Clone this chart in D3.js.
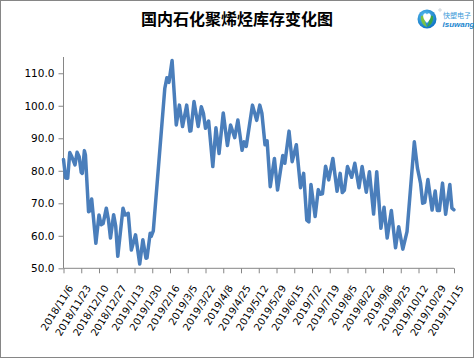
<!DOCTYPE html>
<html>
<head>
<meta charset="utf-8">
<script src="https://cdn.jsdelivr.net/npm/d3@7"></script>
<style>
  html, body { margin: 0; padding: 0; background: #fff; }
  svg { display: block; }
</style>
</head>
<body>
<svg id="chart" width="474" height="359"></svg>
<script>
const title = "国内石化聚烯烃库存变化图";
const dates = [
  "2018-11-06","2018-11-08","2018-11-10","2018-11-12","2018-11-14","2018-11-17","2018-11-19","2018-11-21","2018-11-23","2018-11-24",
  "2018-11-26","2018-11-27","2018-11-30","2018-12-01","2018-12-03","2018-12-07","2018-12-10","2018-12-12","2018-12-14","2018-12-17",
  "2018-12-19","2018-12-21","2018-12-24","2018-12-26","2018-12-28","2019-01-02","2019-01-04","2019-01-07","2019-01-10","2019-01-14",
  "2019-01-18","2019-01-21","2019-01-24","2019-01-25","2019-01-28","2019-01-29","2019-01-31","2019-02-11","2019-02-13","2019-02-15",
  "2019-02-18","2019-02-22","2019-02-25","2019-02-28","2019-03-04","2019-03-07","2019-03-08","2019-03-11","2019-03-15","2019-03-18",
  "2019-03-20","2019-03-22","2019-03-25","2019-03-29","2019-04-01","2019-04-04","2019-04-08","2019-04-12","2019-04-15","2019-04-19",
  "2019-04-22","2019-04-26","2019-04-28","2019-04-30","2019-05-06","2019-05-10","2019-05-13","2019-05-15","2019-05-18","2019-05-20",
  "2019-05-23","2019-05-27","2019-05-30","2019-06-04","2019-06-06","2019-06-10","2019-06-13","2019-06-17","2019-06-21","2019-06-24",
  "2019-06-27","2019-06-29","2019-07-01","2019-07-05","2019-07-08","2019-07-10","2019-07-12","2019-07-15","2019-07-18","2019-07-22",
  "2019-07-26","2019-07-29","2019-07-31","2019-08-02","2019-08-05","2019-08-09","2019-08-12","2019-08-16","2019-08-19","2019-08-23",
  "2019-08-26","2019-08-30","2019-09-02","2019-09-06","2019-09-09","2019-09-12","2019-09-16","2019-09-20","2019-09-23","2019-09-27",
  "2019-10-01","2019-10-08","2019-10-11","2019-10-14","2019-10-16","2019-10-18","2019-10-21","2019-10-25","2019-10-28","2019-10-30",
  "2019-11-01","2019-11-04","2019-11-07","2019-11-11","2019-11-13","2019-11-15"
];
const values = [
  83.5,77.8,77.7,85.6,84.3,81.8,85.7,84.3,79.5,79.2,
  86.2,84.9,67.4,67.6,71.3,57.7,66.4,63.4,63.8,68.5,
  65.0,59.3,66.5,63.0,53.7,68.5,66.4,66.9,55.6,60.3,
  51.3,58.8,53.1,53.2,60.8,59.8,61.5,105.3,108.6,107.2,
  113.9,94.1,100.2,93.6,100.2,92.2,92.3,101.3,93.6,99.7,
  97.7,93.1,95.3,81.3,93.2,85.3,97.8,87.8,94.1,90.2,
  95.6,86.3,88.9,87.5,100.2,95.5,100.2,97.7,88.0,89.2,
  75.1,83.8,74.1,84.7,82.3,92.2,82.8,88.0,74.8,79.2,
  64.8,64.3,75.8,65.9,74.2,72.8,72.9,81.4,77.2,83.8,
  73.7,79.2,73.3,74.0,81.3,78.0,82.3,74.8,81.3,73.4,
  79.7,66.7,79.7,62.3,68.8,59.3,67.8,56.3,62.8,55.9,
  61.3,88.9,80.8,76.1,70.0,70.3,77.3,67.9,73.8,67.8,
  67.8,76.2,66.6,75.8,68.5,68.0
];
const tickLabels = [
  "2018/11/6","2018/11/23","2018/12/10","2018/12/27","2019/1/13","2019/1/30","2019/2/16","2019/3/5",
  "2019/3/22","2019/4/8","2019/4/25","2019/5/12","2019/5/29","2019/6/15","2019/7/2","2019/7/19",
  "2019/8/5","2019/8/22","2019/9/8","2019/9/25","2019/10/12","2019/10/29","2019/11/15"
];
const yTicks = [50, 60, 70, 80, 90, 100, 110];
const yDomain = [50, 115];

const parse = d3.utcParse("%Y-%m-%d");
const parseTick = d3.utcParse("%Y/%m/%d");
const data = dates.map((d, i) => ({ date: parse(d), value: values[i] }));
const tickDates = tickLabels.map(t => parseTick(t));

const svg = d3.select("#chart");
const fontAxis = "'DejaVu Sans', Verdana, sans-serif";

// outer frame
svg.append("rect").attr("x", 0.5).attr("y", 0.5).attr("width", 473).attr("height", 357)
  .attr("fill", "#fff").attr("stroke", "#868686").attr("stroke-width", 1);

const x = d3.scaleUtc().domain([tickDates[0], tickDates[tickDates.length - 1]]).range([63.5, 454]);
const y = d3.scaleLinear().domain(yDomain).range([268.3, 57]);

// title
svg.append("text").attr("x", 237).attr("y", 25)
  .attr("text-anchor", "middle")
  .attr("font-family", "'Noto Sans CJK SC', sans-serif")
  .attr("font-weight", "bold").attr("font-size", 16).attr("fill", "#000")
  .text(title);

// logo
const defs = svg.append("defs");
const grad = defs.append("radialGradient").attr("id", "lg").attr("cx", "40%").attr("cy", "35%").attr("r", "70%");
grad.append("stop").attr("offset", "0%").attr("stop-color", "#5cc4f2");
grad.append("stop").attr("offset", "100%").attr("stop-color", "#0b6fc2");
const logo = svg.append("g").attr("transform", "translate(427,19)");
logo.append("circle").attr("r", 9.5).attr("fill", "url(#lg)");
logo.append("path").attr("d", "M-6,-3 C-7,3 -3,7 0,8 C-2,4 -3,0 -1,-4 Z").attr("fill", "#7cc242");
logo.append("path").attr("d", "M6,-3 C7,3 3,7 0,8 C2,4 3,0 1,-4 Z").attr("fill", "#3aa64a");
logo.append("path").attr("d", "M0,4 C-4,0 -5,-4 -2.5,-5.5 C-1,-6 0,-5 0,-4 C0,-5 1,-6 2.5,-5.5 C5,-4 4,0 0,4 Z").attr("fill", "#fff");
svg.append("circle").attr("cx", 440).attr("cy", 10).attr("r", 1.2).attr("fill", "none").attr("stroke", "#9ab").attr("stroke-width", 0.5);
svg.append("text").attr("x", 443).attr("y", 17.5).attr("font-size", 7)
  .attr("font-family", "'Noto Sans CJK SC', sans-serif").attr("fill", "#3b9ad8").text("快塑电子");
svg.append("text").attr("x", 442.5).attr("y", 27).attr("font-size", 8).attr("font-weight", "bold")
  .attr("font-style", "italic").attr("font-family", "'Liberation Sans', Arial, sans-serif").attr("fill", "#1a86cf").text("isuwang");

// y axis
const yAxis = d3.axisLeft(y).tickValues(yTicks).tickSize(5).tickPadding(4).tickFormat(d3.format(".1f"));
const gy = svg.append("g").attr("transform", "translate(63.5,0)").call(yAxis);
gy.select(".domain").attr("stroke", "#868686").attr("d", `M0,${y(yDomain[1])}V${y(yDomain[0])}`);
gy.selectAll(".tick line").attr("stroke", "#868686");
gy.selectAll(".tick text").attr("font-family", fontAxis).attr("font-size", 10.5).attr("fill", "#000");

// x axis
const xAxis = d3.axisBottom(x).tickValues(tickDates).tickSize(5).tickFormat((d, i) => tickLabels[i]);
const gx = svg.append("g").attr("transform", `translate(0,${y(yDomain[0])})`).call(xAxis);
gx.select(".domain").attr("stroke", "#868686").attr("d", `M63.5,0H454`);
gx.selectAll(".tick line").attr("stroke", "#868686");
gx.selectAll(".tick text")
  .attr("font-family", fontAxis).attr("font-size", 10).attr("fill", "#000")
  .attr("text-anchor", "end")
  .attr("dy", null).attr("y", null)
  .attr("dominant-baseline", "middle")
  .attr("transform", "translate(7,18) rotate(-58)");

// line
const line = d3.line().x(d => x(d.date)).y(d => y(d.value));
svg.append("path").datum(data)
  .attr("fill", "none").attr("stroke", "#4a7ebb").attr("stroke-width", 3.5)
  .attr("stroke-linejoin", "round").attr("stroke-linecap", "round")
  .attr("d", line);
</script>
</body>
</html>
